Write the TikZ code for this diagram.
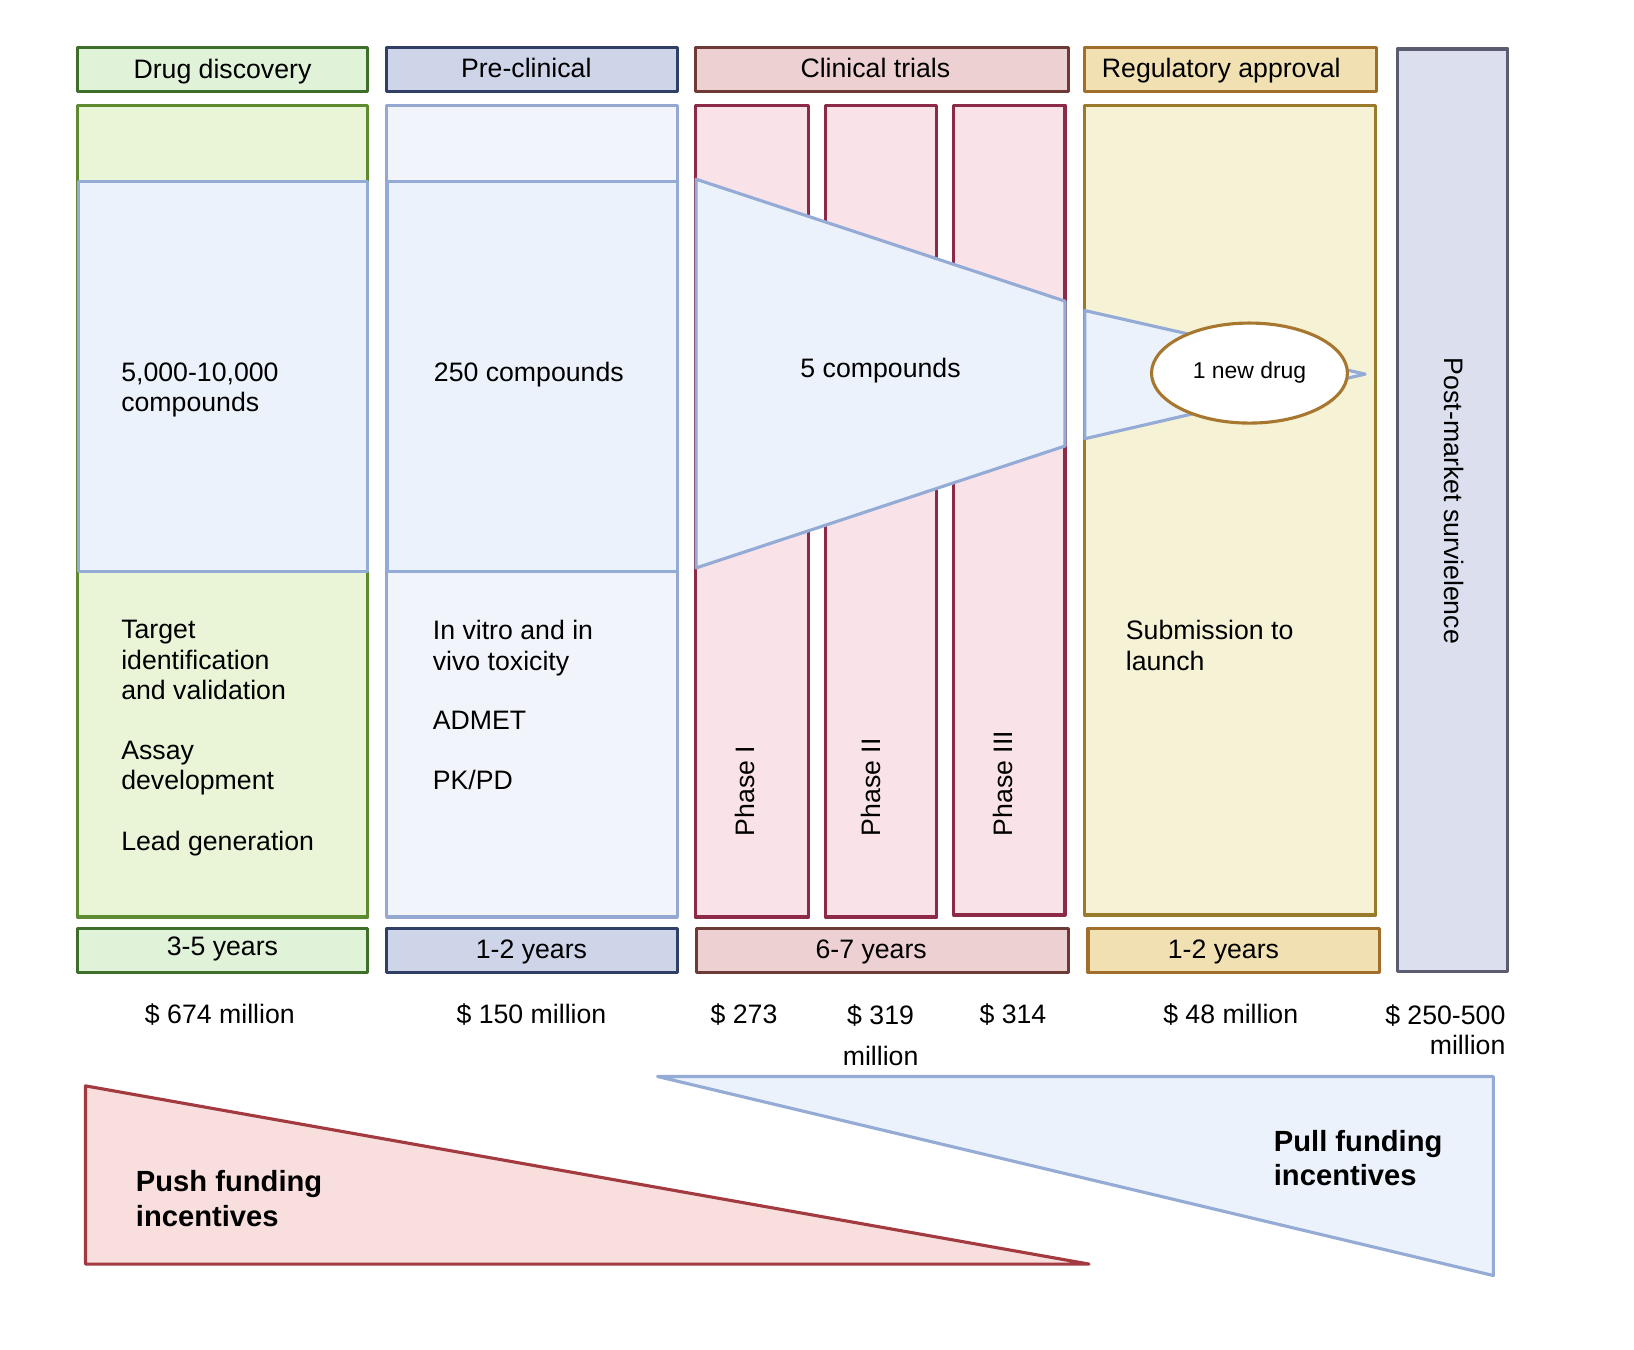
\documentclass[tikz,border=0pt]{standalone}
\usepackage{fontspec}
\setmainfont{Liberation Sans}
\usetikzlibrary{shapes.geometric}

% stage colours
\definecolor{ddHdrFill}{HTML}{E0F2D8}
\definecolor{ddHdrLine}{HTML}{3D6E2A}
\definecolor{ddColFill}{HTML}{EAF5D8}
\definecolor{ddColLine}{HTML}{5E8A30}
\definecolor{pcHdrFill}{HTML}{CFD5E8}
\definecolor{pcHdrLine}{HTML}{2F3F66}
\definecolor{pcColFill}{HTML}{F1F4FA}
\definecolor{pcColLine}{HTML}{94A8D2}
\definecolor{ctHdrFill}{HTML}{EDD0D1}
\definecolor{ctHdrLine}{HTML}{6E3A36}
\definecolor{phFill}{HTML}{FAE3E8}
\definecolor{phLine}{HTML}{8C2A47}
\definecolor{raHdrFill}{HTML}{F1E1B2}
\definecolor{raHdrLine}{HTML}{A26E2C}
\definecolor{raColFill}{HTML}{F5F2D5}
\definecolor{raColLine}{HTML}{9A7B2C}
\definecolor{pmFill}{HTML}{DCDFEE}
\definecolor{pmLine}{HTML}{5C5C70}
\definecolor{funFill}{HTML}{ECF2FB}
\definecolor{funLine}{HTML}{94ABD6}
\definecolor{drugLine}{HTML}{A8772F}
\definecolor{pushFill}{HTML}{F8DFDE}
\definecolor{pushLine}{HTML}{A23A40}

\begin{document}
\begin{tikzpicture}[x=0.5pt,y=-0.5pt,line join=round,
  frame/.style={line width=1.5pt},
  ddhdr/.style={frame,draw=ddHdrLine,fill=ddHdrFill},
  pchdr/.style={frame,draw=pcHdrLine,fill=pcHdrFill},
  cthdr/.style={frame,draw=ctHdrLine,fill=ctHdrFill},
  rahdr/.style={frame,draw=raHdrLine,fill=raHdrFill},
  ddcol/.style={frame,draw=ddColLine,fill=ddColFill},
  pccol/.style={frame,draw=pcColLine,fill=pcColFill},
  phcol/.style={frame,draw=phLine,fill=phFill},
  racol/.style={frame,draw=raColLine,fill=raColFill},
  funnel/.style={frame,draw=funLine,fill=funFill},
  txt/.style={inner sep=0pt,text=black,font=\fontsize{12.8}{14.5}\selectfont},
  multi/.style={txt,align=left,anchor=north west},
  boldtxt/.style={inner sep=0pt,text=black,align=left,anchor=north west,
    font=\bfseries\fontsize{14}{16.5}\selectfont}]

\path[use as bounding box] (0,0) rectangle (1568,1295);

% ---- stage headers ----
\draw[ddhdr] (74,46) rectangle (353,88);
\node[txt,anchor=base] (hDD) at (213.5,75) {Drug discovery};
\draw[pchdr] (371,46) rectangle (650,88);
\node[txt,anchor=base] (hPC) at (505,74) {Pre-clinical};
\draw[cthdr] (667,46) rectangle (1025,88);
\node[txt,anchor=base] (hCT) at (840,74) {Clinical trials};
\draw[rahdr] (1041,46) rectangle (1321,88);
\node[txt,anchor=base] (hRA) at (1172,74) {Regulatory approval};

% ---- post-market bar ----
\draw[frame,draw=pmLine,fill=pmFill] (1341,47) rectangle (1447,932);
\node[txt,rotate=-90,anchor=base west] (pm) at (1386,343) {Post-market survielence};

% ---- stage columns ----
\draw[ddcol] (74,101) rectangle (353,880);
\draw[pccol] (371,101) rectangle (650,880);
\draw[phcol] (667,101) rectangle (776,880);
\draw[phcol] (792,101) rectangle (899,880);
\draw[phcol] (915,101) rectangle (1022,878);
\draw[racol] (1041,101) rectangle (1320,878);

% ---- compound funnel ----
\draw[funnel] (75,174) rectangle (353,548);
\draw[funnel] (372,174) rectangle (650,548);
\draw[funnel] (668,172) -- (1022,289) -- (1022,428) -- (668,545) -- cycle;
\draw[funnel] (1041,298) -- (1310,359) -- (1041,421) -- cycle;
\node[ellipse,draw=drugLine,fill=white,line width=1.5pt,inner sep=0pt,
  minimum width=94pt,minimum height=48pt,
  font=\fontsize{11}{12}\selectfont] (newDrug) at (1199,358) {1 new drug};

\node[multi] (cDD) at (116,348) {5,000-10,000\\compounds};
\node[txt,anchor=base west] (cPC) at (416,366) {250 compounds};
\node[txt,anchor=base] (cCT) at (845,362) {5 compounds};

% ---- activities ----
\node[multi] (aDD1) at (116,595) {Target\\identification\\and validation};
\node[multi] (aDD2) at (116,711) {Assay\\development};
\node[txt,anchor=base west] (aDD3) at (116,816) {Lead generation};
\node[multi] (aPC1) at (415,595) {In vitro and in\\vivo toxicity};
\node[txt,anchor=base west] (aPC2) at (415,700) {ADMET};
\node[txt,anchor=base west] (aPC3) at (415,758) {PK/PD};
\node[multi] (aRA) at (1080,595) {Submission to\\launch};

\node[txt,rotate=90,anchor=base west] (ph1) at (724,803) {Phase I};
\node[txt,rotate=90,anchor=base west] (ph2) at (845,803) {Phase II};
\node[txt,rotate=90,anchor=base west] (ph3) at (972,803) {Phase III};

% ---- durations ----
\draw[ddhdr] (74,891) rectangle (353,933);
\node[txt,anchor=base] (yDD) at (213.5,917) {3-5 years};
\draw[pchdr] (371,891) rectangle (650,933);
\node[txt,anchor=base] (yPC) at (510,920) {1-2 years};
\draw[cthdr] (668,891) rectangle (1025,933);
\node[txt,anchor=base] (yCT) at (836,920) {6-7 years};
\draw[rahdr] (1044,891) rectangle (1324,933);
\node[txt,anchor=base] (yRA) at (1174,920) {1-2 years};

% ---- costs ----
\node[txt,anchor=base] (kDD) at (211,982) {\$ 674 million};
\node[txt,anchor=base] (kPC) at (510,982) {\$ 150 million};
\node[txt,anchor=base] (kP1) at (714,982) {\$ 273};
\node[txt,align=center,anchor=north,font=\fontsize{12.8}{19.5}\selectfont] (kP2) at (845,964) {\$ 319\\million};
\node[txt,anchor=base] (kP3) at (972,982) {\$ 314};
\node[txt,anchor=base] (kRA) at (1181,982) {\$ 48 million};
\node[txt,align=right,anchor=north east] (kPM) at (1445,964) {\$ 250-500\\million};

% ---- funding incentives ----
\draw[frame,draw=pushLine,fill=pushFill] (82,1042) -- (1045,1213) -- (82,1213) -- cycle;
\node[boldtxt] (push) at (130,1123) {Push funding\\incentives};
\draw[funnel] (631,1033) -- (1433,1033) -- (1433,1224) -- cycle;
\node[boldtxt] (pull) at (1222,1084) {Pull funding\\incentives};

\end{tikzpicture}
\end{document}
